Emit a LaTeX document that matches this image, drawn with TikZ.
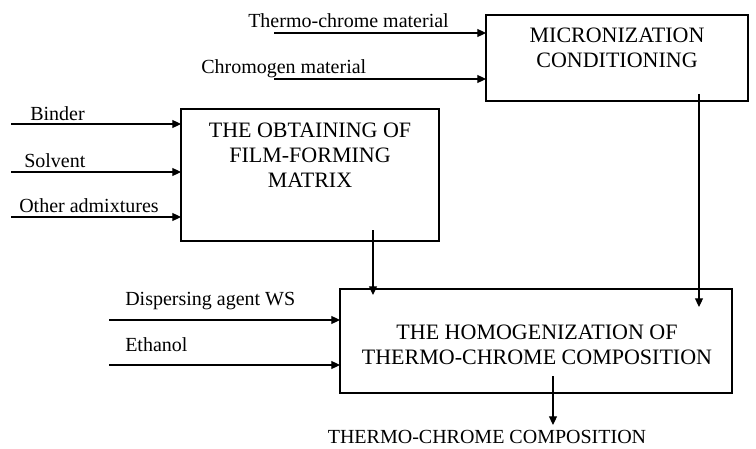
\documentclass[tikz,border=0pt]{standalone}
\usepackage{fontspec}
\setmainfont{Liberation Serif}
\usetikzlibrary{arrows.meta}
\begin{document}
\begin{tikzpicture}[x=0.75pt,y=-0.75pt,
  box/.style={draw, line width=0.8pt, inner sep=0pt, outer sep=0pt},
  boxtext/.style={align=center, inner sep=0pt, font=\fontsize{16.5}{18.75}\selectfont},
  lbl/.style={inner sep=0pt, anchor=base west, font=\fontsize{15}{18}\selectfont},
  arr/.style={line width=0.8pt, -{Triangle[length=6.5pt,width=6pt]}}]
\useasboundingbox (0,0) rectangle (756,449);
% boxes
\node[box, minimum width=196.5pt, minimum height=64.5pt] (micro) at (617,58) {};
\node[boxtext] at (617,47.5) {MICRONIZATION\\CONDITIONING};
\node[box, minimum width=193.5pt, minimum height=99pt] (obt) at (310,175) {};
\node[boxtext] at (310,155.5) {THE OBTAINING OF\\FILM-FORMING\\MATRIX};
\node[box, minimum width=294pt, minimum height=78pt] (hom) at (536,341) {};
\node[boxtext] at (537,344.5) {THE HOMOGENIZATION OF\\THERMO-CHROME COMPOSITION};
% labels
\node[lbl] (lt) at (248,28) {Thermo-chrome material};
\node[lbl] (lc) at (201,74) {Chromogen material};
\node[lbl] (lb) at (30,121) {Binder};
\node[lbl] (ls) at (24,167) {Solvent};
\node[lbl] (lo) at (19,212) {Other admixtures};
\node[lbl] (ld) at (125,305) {Dispersing agent WS};
\node[lbl] (le) at (125,351) {Ethanol};
\node[inner sep=0pt, anchor=base, font=\fontsize{15}{18}\selectfont] (out) at (487,443) {THERMO-CHROME COMPOSITION};
% start points
\coordinate (st) at (274,33);
\coordinate (sc) at (274,79);
\coordinate (sb) at (11,124);
\coordinate (ss) at (11,172);
\coordinate (so) at (11,217);
\coordinate (sd) at (109,320);
\coordinate (se) at (109,365);
\coordinate (so1) at (373,230);
\coordinate (sm1) at (699,94);
\coordinate (sh1) at (553,376);
\coordinate (eo1) at (373,295);
\coordinate (em1) at (699,307);
\coordinate (eh1) at (553,425);
% arrows
\draw[arr] (st) -- (st -| micro.west);
\draw[arr] (sc) -- (sc -| micro.west);
\draw[arr] (sb) -- (sb -| obt.west);
\draw[arr] (ss) -- (ss -| obt.west);
\draw[arr] (so) -- (so -| obt.west);
\draw[arr] (sd) -- (sd -| hom.west);
\draw[arr] (se) -- (se -| hom.west);
\draw[arr] (so1) -- (eo1);
\draw[arr] (sm1) -- (em1);
\draw[arr] (sh1) -- (eh1);
\end{tikzpicture}
\end{document}
